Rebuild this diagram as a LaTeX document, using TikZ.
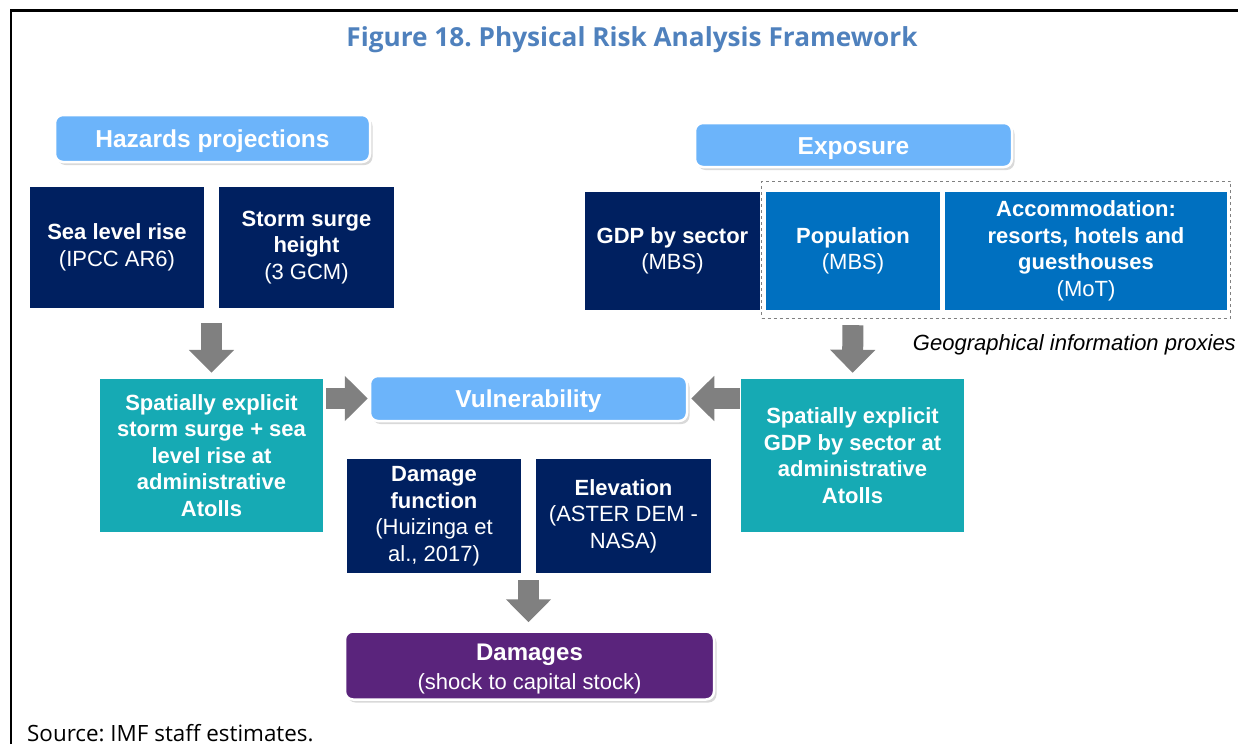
\documentclass[tikz,border=0pt]{standalone}
\usepackage{fontspec}
\setmainfont{Liberation Sans}
\newfontfamily\headfont{Open Sans}
\usetikzlibrary{arrows.meta, shadows, calc}
\frenchspacing

\definecolor{navybox}{RGB}{0,32,96}
\definecolor{bluebox}{RGB}{0,112,192}
\definecolor{tealbox}{RGB}{22,170,180}
\definecolor{skybox}{RGB}{108,180,250}
\definecolor{plumbox}{RGB}{90,36,124}
\definecolor{arrowgray}{RGB}{128,128,128}
\definecolor{titleblue}{RGB}{79,129,189}

\begin{document}
\begin{tikzpicture}[
    x=1pt, y=-1pt,
    box/.style={rectangle, fill=#1, text=white, align=center, inner sep=0pt, font=\fontsize{22}{26.5}\selectfont},
    headbox/.style={rectangle, rounded corners=8pt, fill=#1, draw=white, line width=2.5pt, text=white, align=center, inner sep=0pt,
        drop shadow={shadow xshift=2.5pt, shadow yshift=-3pt, opacity=0.3}, font=\fontsize{24.5}{28}\selectfont\bfseries},
    proxybox/.style={rectangle, draw=arrowgray, dashed, line width=1pt, inner sep=0pt},
    blockarrow/.style={arrowgray, line width=21pt, -{Triangle[length=23pt, width=44pt]}},
    frame/.style={line width=2.5pt}
]
    \useasboundingbox (0, 0) rectangle (1238, 744);
    \draw[frame] (11, 744) -- (11, 10.5) -- (1238, 10.5);

    \node[text=titleblue, font=\headfont\fontsize{26.2}{32}\selectfont\bfseries] (title) at (632, 40) {Figure 18. Physical Risk Analysis Framework};

    \node[headbox=skybox, minimum width=315pt, minimum height=47pt, text height=19pt, text depth=1pt] (haz) at (212.5, 138.5) {Hazards projections};
    \node[box=navybox, minimum width=174pt, minimum height=121pt] (sea) at (117, 247.5) {\textbf{Sea level rise}\\(IPCC AR6)};
    \node[box=navybox, minimum width=175pt, minimum height=121pt] (storm) at (306.5, 247.5) {\textbf{Storm surge}\\\textbf{height}\\(3 GCM)};

    \node[headbox=skybox, minimum width=317pt, minimum height=44pt, text height=19pt, text depth=1pt] (expo) at (853.5, 145) {Exposure};
    \node[proxybox, minimum width=469pt, minimum height=137pt] (proxies) at (996, 249.5) {};
    \node[box=navybox, minimum width=175pt, minimum height=118pt] (gdp) at (672.5, 251) {\textbf{GDP by sector}\\(MBS)};
    \node[box=bluebox, minimum width=174pt, minimum height=118pt] (pop) at (853, 251) {\textbf{Population}\\(MBS)};
    \node[box=bluebox, minimum width=282pt, minimum height=118pt] (acc) at (1086, 251) {\textbf{Accommodation:}\\\textbf{resorts, hotels and}\\\textbf{guesthouses}\\(MoT)};
    \node[anchor=east, inner sep=0pt, font=\fontsize{22}{26.5}\selectfont\itshape] (geo) at (1236, 345) {Geographical information proxies};

    \node[box=tealbox, minimum width=223pt, minimum height=153pt, font=\fontsize{22}{26.5}\selectfont\bfseries] (lteal) at (211.5, 455.5) {Spatially explicit\\storm surge + sea\\level rise at\\administrative\\Atolls};
    \node[box=tealbox, minimum width=223pt, minimum height=153pt, font=\fontsize{22}{26.5}\selectfont\bfseries] (rteal) at (852.5, 455.5) {Spatially explicit\\GDP by sector at\\administrative\\Atolls};
    \node[headbox=skybox, minimum width=317pt, minimum height=45pt, text height=19pt, text depth=1pt] (vul) at (528.5, 398.5) {Vulnerability};

    \node[box=navybox, minimum width=174pt, minimum height=114pt] (dmg) at (434, 516) {\textbf{Damage}\\\textbf{function}\\(Huizinga et\\al., 2017)};
    \node[box=navybox, minimum width=175pt, minimum height=114pt] (elev) at (623.5, 516) {\textbf{Elevation}\\(ASTER DEM -\\NASA)};
    \node[headbox=plumbox, minimum width=369pt, minimum height=68pt, font=\fontsize{22}{28.5}\selectfont] (damages) at (529.5, 665.5) {\rule{0pt}{24pt}{\fontsize{24}{28.5}\selectfont\bfseries Damages}\\(shock to capital stock)};

    \coordinate (hazgap) at ($(sea.south east)!0.5!(storm.south west)$);
    \coordinate (vulgap) at ($(dmg.south east)!0.5!(elev.south west)$);
    \draw[blockarrow, shorten <=15pt, shorten >=6pt] (hazgap) -- (hazgap |- lteal.north);
    \draw[blockarrow, shorten <=15pt, shorten >=6pt] (pop.south) -- (rteal.north);
    \draw[blockarrow, shorten <=3pt, shorten >=1pt] (vul.west -| lteal.east) -- (vul.west);
    \draw[blockarrow, shorten <=1pt, shorten >=3pt] (vul.east -| rteal.west) -- (vul.east);
    \draw[blockarrow, shorten <=7pt, shorten >=8pt] (vulgap) -- (vulgap |- damages.north);

    \node[anchor=base west, inner sep=0pt, font=\headfont\fontsize{22.4}{26}\selectfont] (source) at (27, 741) {Source: IMF staff estimates.};
\end{tikzpicture}
\end{document}
